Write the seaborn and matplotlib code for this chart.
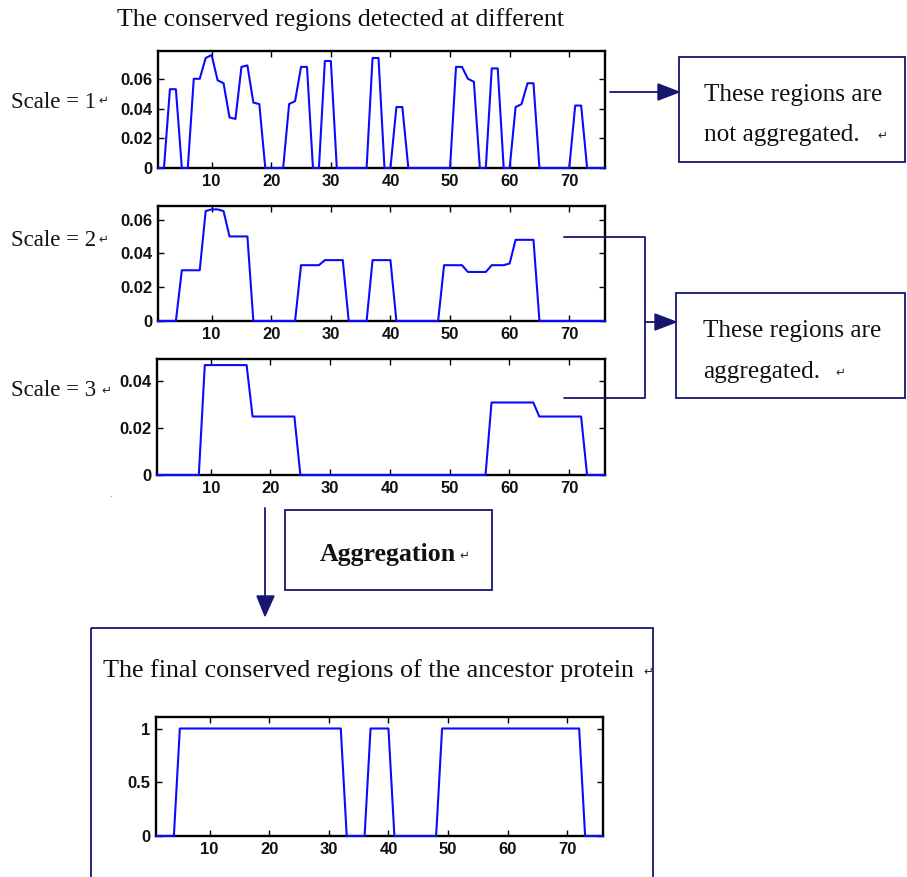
import numpy as np
import pandas as pd
import matplotlib
matplotlib.use("Agg")
import matplotlib.pyplot as plt
import seaborn as sns
from matplotlib.patches import Rectangle, Polygon

# ---------------- data ----------------
positions = list(range(1, 77))

scale1 = [
    0, 0, 0.053, 0.053, 0, 0, 0.060, 0.060, 0.074, 0.076,          # 1-10
    0.059, 0.057, 0.034, 0.033, 0.068, 0.069, 0.044, 0.043, 0, 0,  # 11-20
    0, 0, 0.043, 0.045, 0.068, 0.068, 0, 0, 0.072, 0.072,          # 21-30
    0, 0, 0, 0, 0, 0, 0.074, 0.074, 0, 0,                          # 31-40
    0.041, 0.041, 0, 0, 0, 0, 0, 0, 0, 0,                          # 41-50
    0.068, 0.068, 0.060, 0.058, 0, 0, 0.067, 0.067, 0, 0,          # 51-60
    0.041, 0.043, 0.057, 0.057, 0, 0, 0, 0, 0, 0,                  # 61-70
    0.042, 0.042, 0, 0, 0, 0]                                      # 71-76

scale2 = [
    0, 0, 0, 0, 0.030, 0.030, 0.030, 0.030, 0.065, 0.066,          # 1-10
    0.066, 0.065, 0.050, 0.050, 0.050, 0.050, 0, 0, 0, 0,          # 11-20
    0, 0, 0, 0, 0.033, 0.033, 0.033, 0.033, 0.036, 0.036,          # 21-30
    0.036, 0.036, 0, 0, 0, 0, 0.036, 0.036, 0.036, 0.036,          # 31-40
    0, 0, 0, 0, 0, 0, 0, 0, 0.033, 0.033,                          # 41-50
    0.033, 0.033, 0.029, 0.029, 0.029, 0.029, 0.033, 0.033, 0.033, 0.034,  # 51-60
    0.048, 0.048, 0.048, 0.048, 0, 0, 0, 0, 0, 0,                  # 61-70
    0, 0, 0, 0, 0, 0]                                              # 71-76

scale3 = [
    0, 0, 0, 0, 0, 0, 0, 0, 0.047, 0.047,                          # 1-10
    0.047, 0.047, 0.047, 0.047, 0.047, 0.047, 0.025, 0.025, 0.025, 0.025,  # 11-20
    0.025, 0.025, 0.025, 0.025, 0, 0, 0, 0, 0, 0,                  # 21-30
    0, 0, 0, 0, 0, 0, 0, 0, 0, 0,                                  # 31-40
    0, 0, 0, 0, 0, 0, 0, 0, 0, 0,                                  # 41-50
    0, 0, 0, 0, 0, 0, 0.031, 0.031, 0.031, 0.031,                  # 51-60
    0.031, 0.031, 0.031, 0.031, 0.025, 0.025, 0.025, 0.025, 0.025, 0.025,  # 61-70
    0.025, 0.025, 0, 0, 0, 0]                                      # 71-76

final = [
    0, 0, 0, 0, 1, 1, 1, 1, 1, 1,
    1, 1, 1, 1, 1, 1, 1, 1, 1, 1,
    1, 1, 1, 1, 1, 1, 1, 1, 1, 1,
    1, 1, 0, 0, 0, 0, 1, 1, 1, 1,
    0, 0, 0, 0, 0, 0, 0, 0, 1, 1,
    1, 1, 1, 1, 1, 1, 1, 1, 1, 1,
    1, 1, 1, 1, 1, 1, 1, 1, 1, 1,
    1, 1, 0, 0, 0, 0]

x_ticks = [10, 20, 30, 40, 50, 60, 70]
x_labels = ["10", "20", "30", "40", "50", "60", "70"]
y_ticks_12 = [0, 0.02, 0.04, 0.06]
y_labels_12 = ["0", "0.02", "0.04", "0.06"]
y_ticks_3 = [0, 0.02, 0.04]
y_labels_3 = ["0", "0.02", "0.04"]
y_ticks_f = [0, 0.5, 1]
y_labels_f = ["0", "0.5", "1"]

title_text = "The conserved regions detected at different"
scale_labels = ["Scale = 1", "Scale = 2", "Scale = 3"]
box1_lines = ["These regions are", "not aggregated."]
box2_lines = ["These regions are", "aggregated."]
agg_text = "Aggregation"
final_text = "The final conserved regions of the ancestor protein"
RET = "\u21b5"

# ---------------- figure ----------------
sns.set_style("white")
plt.rcParams["font.family"] = ["Liberation Sans", "DejaVu Sans"]

W, H = 907, 877
fig = plt.figure(figsize=(W / 100, H / 100), dpi=100)


def add_axes_px(l, t, r, b):
    return fig.add_axes([l / W, 1 - b / H, (r - l) / W, (b - t) / H])


panels = [
    (scale1, (158, 51, 605, 168), 0.0787, y_ticks_12, y_labels_12),
    (scale2, (158, 206, 605, 321), 0.0680, y_ticks_12, y_labels_12),
    (scale3, (157, 359, 605, 475), 0.0496, y_ticks_3, y_labels_3),
    (final, (156, 717, 603, 836), 1.107, y_ticks_f, y_labels_f),
]

BLUE = "#0a0aff"
for vals, rect, ytop, yt, ytl in panels:
    ax = add_axes_px(*rect)
    df = pd.DataFrame({"pos": positions, "val": vals})
    sns.lineplot(data=df, x="pos", y="val", ax=ax, color=BLUE,
                 linewidth=1.5, zorder=3, clip_on=False)
    ax.set_xlim(1, 76)
    ax.set_ylim(0, ytop)
    ax.set_xticks(x_ticks)
    ax.set_xticklabels(x_labels)
    ax.set_yticks(yt)
    ax.set_yticklabels(ytl)
    ax.set_xlabel("")
    ax.set_ylabel("")
    for s in ax.spines.values():
        s.set_visible(True)
        s.set_color("black")
        s.set_linewidth(1.7)
    ax.tick_params(direction="in", length=4, width=1, colors="black",
                   bottom=True, left=True, top=True, right=True,
                   labelsize=12, pad=4)
    for lab in ax.get_xticklabels() + ax.get_yticklabels():
        lab.set_color("#111111")
        lab.set_fontweight("bold")

# ---------------- overlay (pixel coordinates, y down) ----------------
ov = fig.add_axes([0, 0, 1, 1])
ov.set_xlim(0, W)
ov.set_ylim(H, 0)
ov.axis("off")

NAVY = "#16166e"
SERIF = ["Liberation Serif", "DejaVu Serif"]

def box(l, t, r, b):
    ov.add_patch(Rectangle((l, t), r - l, b - t, fill=False, edgecolor=NAVY,
                           linewidth=1.3, clip_on=False))

def txt(x, y, s, size, weight="normal"):
    ov.text(x, y, s, ha="left", va="center", fontsize=size, family=SERIF,
            color="#111111", fontweight=weight)

def ret(x, y):
    ov.text(x, y, RET, ha="left", va="center", fontsize=8.5,
            family=["DejaVu Sans"], color="#222222")

# title
txt(117, 20, title_text, 18.6)

# scale labels
for lab, y in zip(scale_labels, [102, 241, 391]):
    txt(11, y, lab, 16.5)
ret(98, 100)
ret(98, 239)
ret(101, 390)

# box 1 + arrow
box(679, 57, 905, 162)
ov.plot([610, 660], [92, 92], color=NAVY, lw=1.3)
ov.add_patch(Polygon([[658, 84], [658, 100], [679, 92]], closed=True,
                     facecolor=NAVY, edgecolor=NAVY))
txt(704, 95, box1_lines[0], 18.2)
txt(704, 135, box1_lines[1], 18.2)
ret(877, 135)

# bracket from scale 2 / scale 3 to box 2
ov.plot([564, 645, 645, 564], [237, 237, 398, 398], color=NAVY, lw=1.3)
ov.plot([645, 657], [322, 322], color=NAVY, lw=1.3)
ov.add_patch(Polygon([[655, 314], [655, 330], [676, 322]], closed=True,
                     facecolor=NAVY, edgecolor=NAVY))
box(676, 293, 905, 398)
txt(703, 331, box2_lines[0], 18.2)
txt(703, 372, box2_lines[1], 18.2)
ret(835, 372)

# aggregation arrow and box
ov.plot([265, 265], [508, 598], color=NAVY, lw=1.3)
ov.add_patch(Polygon([[257, 596], [274, 596], [265, 616]], closed=True,
                     facecolor=NAVY, edgecolor=NAVY))
box(285, 510, 492, 590)
txt(320, 555, agg_text, 18.6, weight="bold")
ret(459, 555)

# final box
box(91, 628, 653, 885)
txt(103, 671, final_text, 18.8)
ret(643, 671)

# small stray dot
ov.text(110, 494, ".", fontsize=7, color="#555555", ha="center", va="center")

fig.savefig("out.png", dpi=100)
